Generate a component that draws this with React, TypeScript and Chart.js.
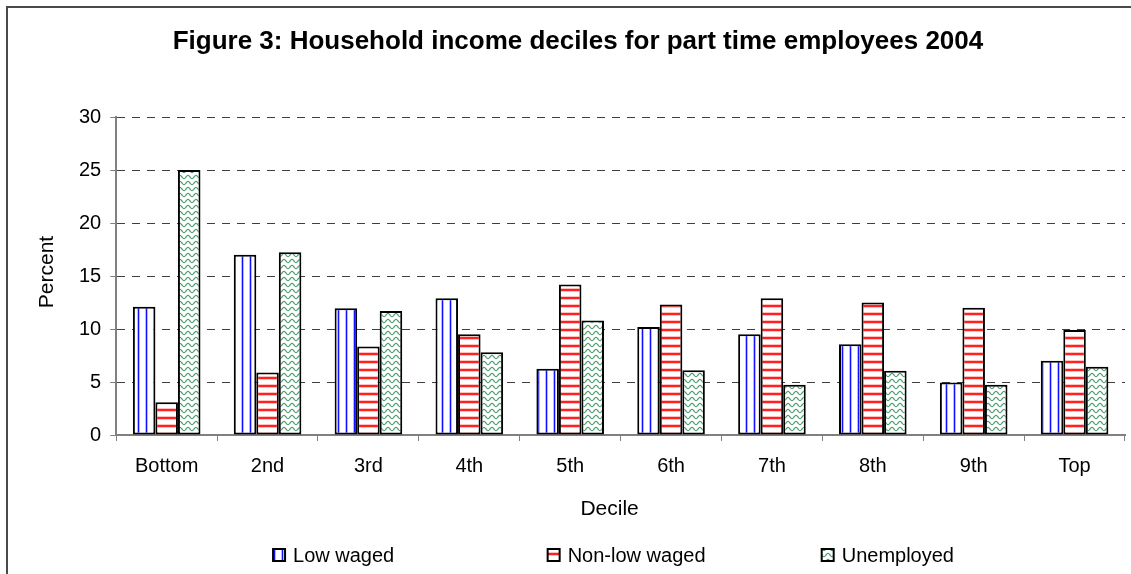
import React, { useEffect, useRef } from "react";
import { Chart, registerables } from "chart.js";

Chart.register(...registerables);

// Deciles of household income
const deciles = ["Bottom", "2nd", "3rd", "4th", "5th", "6th", "7th", "8th", "9th", "Top"];

// Percent of each group falling in each decile
const lowWaged = [12.1, 17.0, 11.95, 12.9, 6.25, 10.2, 9.5, 8.55, 4.95, 7.0];
const nonLowWaged = [3.1, 5.9, 8.35, 9.5, 14.2, 12.3, 12.9, 12.5, 12.0, 9.9];
const unemployed = [25.0, 17.25, 11.7, 7.8, 10.8, 6.1, 4.75, 6.05, 4.75, 6.45];

const seriesNames = ["Low waged", "Non-low waged", "Unemployed"];
const yTicks = { min: 0, max: 30, step: 5 };

const titleText = "Figure 3: Household income deciles for part time employees 2004";
const xTitle = "Decile";
const yTitle = "Percent";

const FONT = "'Liberation Sans', Arial, Helvetica, sans-serif";

function tile(w: number, h: number, paint: (g: CanvasRenderingContext2D) => void): CanvasPattern {
  const c = document.createElement("canvas");
  c.width = w;
  c.height = h;
  const g = c.getContext("2d")!;
  g.fillStyle = "#ffffff";
  g.fillRect(0, 0, w, h);
  paint(g);
  return g.createPattern(c, "repeat")!;
}

// Vertical blue pinstripes
function verticalBlue() {
  return tile(8, 8, (g) => {
    g.fillStyle = "#b8b8ff";
    g.fillRect(1, 0, 1, 8);
    g.fillRect(3, 0, 1, 8);
    g.fillStyle = "#1010ff";
    g.fillRect(2, 0, 1, 8);
  });
}

// Horizontal red stripes
function horizontalRed() {
  return tile(8, 8, (g) => {
    g.fillStyle = "#ffc0c0";
    g.fillRect(0, 0, 8, 1);
    g.fillRect(0, 3, 8, 1);
    g.fillStyle = "#ff2020";
    g.fillRect(0, 1, 8, 2);
  });
}

// Green wavy lines
function greenWaves() {
  return tile(8, 6, (g) => {
    g.strokeStyle = "rgba(46,139,87,0.85)";
    g.lineWidth = 1.2;
    for (const off of [-6, 0, 6]) {
      g.beginPath();
      for (let x = 0; x <= 8; x += 0.5) {
        const y = off + 3 + 1.6 * Math.cos((2 * Math.PI * x) / 8);
        if (x === 0) g.moveTo(x, y);
        else g.lineTo(x, y);
      }
      g.stroke();
    }
  });
}

// Title, axis titles and legend drawn at fixed spots around the plot
const annotations = {
  id: "annotations",
  afterDraw(chart: Chart) {
    const ctx = chart.ctx;
    const W = chart.width;
    ctx.save();
    ctx.fillStyle = "#000";

    ctx.font = `bold 26px ${FONT}`;
    ctx.textAlign = "center";
    ctx.textBaseline = "alphabetic";
    ctx.fillText(titleText, W * 0.511, 49);

    ctx.font = `21px ${FONT}`;
    ctx.fillText(xTitle, W * 0.539, 515);

    ctx.save();
    ctx.translate(53, (chart.chartArea.top + chart.chartArea.bottom) / 2 - 4);
    ctx.rotate(-Math.PI / 2);
    ctx.fillText(yTitle, 0, 0);
    ctx.restore();

    // legend
    const centers = [0.295, 0.554, 0.785];
    ctx.font = `20px ${FONT}`;
    ctx.textAlign = "left";
    chart.data.datasets.forEach((ds, i) => {
      const label = ds.label as string;
      const tw = ctx.measureText(label).width;
      const box = 12;
      const gap = 8;
      const left = W * centers[i] - (box + gap + tw) / 2;
      const top = 549;
      ctx.fillStyle = ds.backgroundColor as any;
      ctx.fillRect(left, top, box, box);
      ctx.strokeStyle = "#000";
      ctx.lineWidth = 2;
      ctx.strokeRect(left, top, box, box);
      ctx.fillStyle = "#000";
      ctx.fillText(label, left + box + gap, 562);
    });
    ctx.restore();
  },
};

export default function App() {
  const ref = useRef<HTMLCanvasElement | null>(null);

  useEffect(() => {
    if (!ref.current) return;
    const common = {
      borderColor: "#000000",
      borderWidth: 2,
      borderSkipped: false as const,
      categoryPercentage: 0.67,
      barPercentage: 1.0,
    };
    const chart = new Chart(ref.current, {
      type: "bar",
      data: {
        labels: deciles,
        datasets: [
          { label: seriesNames[0], data: lowWaged, backgroundColor: verticalBlue(), ...common },
          { label: seriesNames[1], data: nonLowWaged, backgroundColor: horizontalRed(), ...common },
          { label: seriesNames[2], data: unemployed, backgroundColor: greenWaves(), ...common },
        ],
      },
      options: {
        animation: false,
        responsive: false,
        devicePixelRatio: 1,
        layout: { padding: { left: 70, top: 117, right: 6, bottom: 83 } },
        plugins: {
          legend: { display: false },
          title: { display: false },
          tooltip: { enabled: false },
        },
        scales: {
          x: {
            grid: {
              drawOnChartArea: false,
              drawTicks: true,
              tickLength: 6,
              color: "#808080",
              tickColor: "#808080",
              offset: true,
            },
            border: { color: "#808080", width: 2 },
            ticks: {
              color: "#000",
              font: { family: FONT, size: 20 },
              padding: 13,
              maxRotation: 0,
              autoSkip: false,
            },
          },
          y: {
            min: yTicks.min,
            max: yTicks.max,
            ticks: {
              stepSize: yTicks.step,
              color: "#000",
              font: { family: FONT, size: 20 },
              padding: 9,
            },
            grid: {
              color: (c: any) => (c.tick && c.tick.value === 0 ? "rgba(0,0,0,0)" : "#404040"),
              tickColor: "#808080",
              tickLength: 6,
              lineWidth: 1,
            },
            border: { color: "#808080", width: 2, dash: [8, 7] },
          },
        },
      },
      plugins: [annotations],
    });
    return () => chart.destroy();
  }, []);

  return (
    <div
      style={{
        position: "fixed",
        left: 0,
        top: 0,
        width: 1131,
        height: 574,
        overflow: "hidden",
        background: "#fff",
      }}
    >
      <div
        style={{
          position: "absolute",
          left: 6,
          top: 6,
          width: 1300,
          height: 800,
          borderLeft: "2px solid #4a4a4a",
          borderTop: "2px solid #4a4a4a",
        }}
      />
      <canvas ref={ref} width={1131} height={574} style={{ position: "absolute", left: 0, top: 0 }} />
    </div>
  );
}
